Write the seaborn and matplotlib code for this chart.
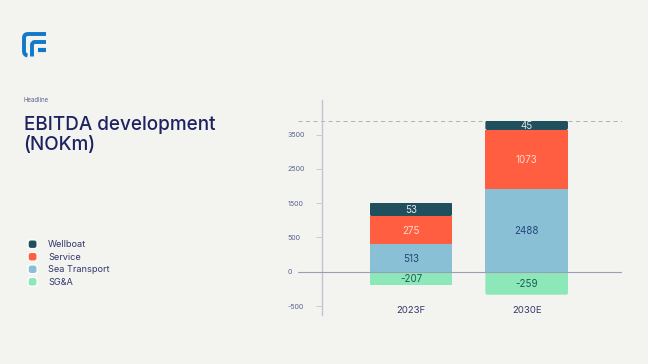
import matplotlib
matplotlib.use("Agg")
import matplotlib.pyplot as plt
import seaborn as sns
import pandas as pd
from matplotlib.patches import FancyBboxPatch, Patch, PathPatch
from matplotlib.legend_handler import HandlerPatch
from matplotlib.path import Path

W, H = 648, 364
BG = "#f3f3f0"
NAVY = "#1d2360"
MUTED = "#5d6390"

years = ["2023F", "2030E"]
series = ["Wellboat", "Service", "Sea Transport", "SG&A"]
# printed figures
wellboat_labels = [53, 45]
service_labels = [275, 1073]
sea_labels = [513, 2488]
sga_labels = [-207, -259]
# segment sizes as drawn, on the picture's evenly spaced axis
# (the segments are not proportional to their printed figures)
sea_drawn = [408, 1210]
service_drawn = [404, 856]
wellboat_drawn = [194, 136]
sga_drawn = [-197, -335]
tick_pos = [-500, 0, 500, 1000, 1500, 2000]
tick_labels = ["-500", "0", "500", "1500", "2500", "3500"]
colors = {"Wellboat": "#20505e", "Service": "#ff5f40",
          "Sea Transport": "#8ac0d6", "SG&A": "#8ce8b8"}
text_colors = {"Wellboat": "#dfe8e8", "Service": "#ffd9cf",
               "Sea Transport": "#24477a", "SG&A": "#1d5a58"}

sns.set_theme(style="white")
plt.rcParams["font.family"] = ["Inter", "DejaVu Sans"]

fig = plt.figure(figsize=(W / 100, H / 100), dpi=100, facecolor=BG)
L, R, T, B = 297.5, 622, 100, 315
ax = fig.add_axes([L / W, 1 - B / H, (R - L) / W, (B - T) / H], facecolor="none")


def stack(vals, bottoms, name):
    df = pd.DataFrame({"year": years, "v": vals})
    before = len(ax.patches)
    sns.barplot(data=df, x="year", y="v", bottom=bottoms, color=colors[name],
                saturation=1, width=0.714, ax=ax, zorder=2, linewidth=0)
    return ax.patches[before:]


sea = stack(sea_drawn, [0, 0], "Sea Transport")
service = stack(service_drawn, sea_drawn, "Service")
top_base = [a + b for a, b in zip(sea_drawn, service_drawn)]
well = stack(wellboat_drawn, top_base, "Wellboat")
sga = stack(sga_drawn, [0, 0], "SG&A")
stack_top = [a + b for a, b in zip(top_base, wellboat_drawn)]

ax.set_xlim(-0.981, 1.824)
ax.set_ylim(-631, 2503)


def label(bars, vals, name, nudge=-15):
    for b, v in zip(bars, vals):
        ax.text(b.get_x() + b.get_width() / 2, b.get_y() + b.get_height() / 2 + nudge, str(v),
                ha="center", va="center", fontsize=7.0, color=text_colors[name], zorder=4)


label(sea, sea_labels, "Sea Transport")
label(service, service_labels, "Service")
label(well, wellboat_labels, "Wellboat")
label(sga, sga_labels, "SG&A")

# rounded outer corners via clip paths
for bars in (well, sga):
    for b in bars:
        x, y, w, h = b.get_x(), b.get_y(), b.get_width(), b.get_height()
        y0, y1 = min(y, y + h), max(y, y + h)
        clip = FancyBboxPatch((x, y0), w, y1 - y0, boxstyle="round,pad=0,rounding_size=0.017",
                              mutation_aspect=14.58 * 115.7, transform=ax.transData)
        b.set_clip_path(clip)

ax.axhline(0, color="#9a9cb8", lw=0.8, zorder=3)
ax.axhline(max(stack_top), color="#a8aaa8", lw=0.6, ls=(0, (5, 4)), zorder=1)

sns.despine(ax=ax, top=True, right=True, bottom=True)
ax.spines["left"].set_position(("data", -0.769))
ax.spines["left"].set_color("#c3c4d2")
ax.spines["left"].set_linewidth(1.0)
ax.set_xlabel("")
ax.set_ylabel("")
ax.set_yticks(tick_pos, tick_labels)
ax.tick_params(axis="y", left=True, length=4, width=0.6, color="#c3c4d2", pad=21,
               labelsize=5.1, labelcolor=MUTED)
for t in ax.get_yticklabels():
    t.set_ha("left")
ax.tick_params(axis="x", bottom=False, length=0, pad=0, labelsize=6.9, labelcolor="#33386b")
for t in ax.get_xticklabels():
    t.set_y(0.041)

# header text
fig.text(23.5 / W, 1 - 100.5 / H, "Headline", fontsize=4.4, color=MUTED, va="center")
fig.text(23.5 / W, 1 - 135 / H, "EBITDA development\n(NOKm)", fontsize=13.6, color=NAVY,
         va="center", linespacing=1.2, fontweight="medium")


# legend with rounded swatches
def rounded(legend, orig_handle, xdescent, ydescent, width, height, fontsize):
    return FancyBboxPatch((-xdescent + 1, -ydescent + 1), width - 2, height - 2,
                          boxstyle="round,pad=1,rounding_size=2")


handles = [Patch(facecolor=colors[s], label=s) for s in series]
leg = fig.legend(handles=handles, loc="upper left", bbox_to_anchor=(28 / W, 1 - 239.8 / H),
                 frameon=False, fontsize=6.6, labelcolor="#33386b", handlelength=1.0,
                 handleheight=1.1, handletextpad=1.2, labelspacing=0.33,
                 borderpad=0, borderaxespad=0,
                 handler_map={Patch: HandlerPatch(patch_func=rounded)})

# logo
lax = fig.add_axes([0, 0, 1, 1], facecolor="none")
lax.set_axis_off()
lax.set_xlim(0, W)
lax.set_ylim(H, 0)
BLUE = "#1278c8"
outer = Path([(27.5, 55.5), (24, 55), (24, 51), (24, 38), (24, 34), (28, 34), (46, 34)],
             [Path.MOVETO, Path.CURVE3, Path.CURVE3, Path.LINETO, Path.CURVE3, Path.CURVE3, Path.LINETO])
lax.add_patch(PathPatch(outer, fill=False, ec=BLUE, lw=2.8, capstyle="butt"))
inner = Path([(32, 56.5), (32, 45), (32, 42), (35, 42), (46, 42)],
             [Path.MOVETO, Path.LINETO, Path.CURVE3, Path.CURVE3, Path.LINETO])
lax.add_patch(PathPatch(inner, fill=False, ec=BLUE, lw=2.8, capstyle="butt"))
lax.plot([38, 46], [50.2, 50.2], color=BLUE, lw=3.0, solid_capstyle="butt")

fig.savefig("out.png", dpi=100, facecolor=BG)
